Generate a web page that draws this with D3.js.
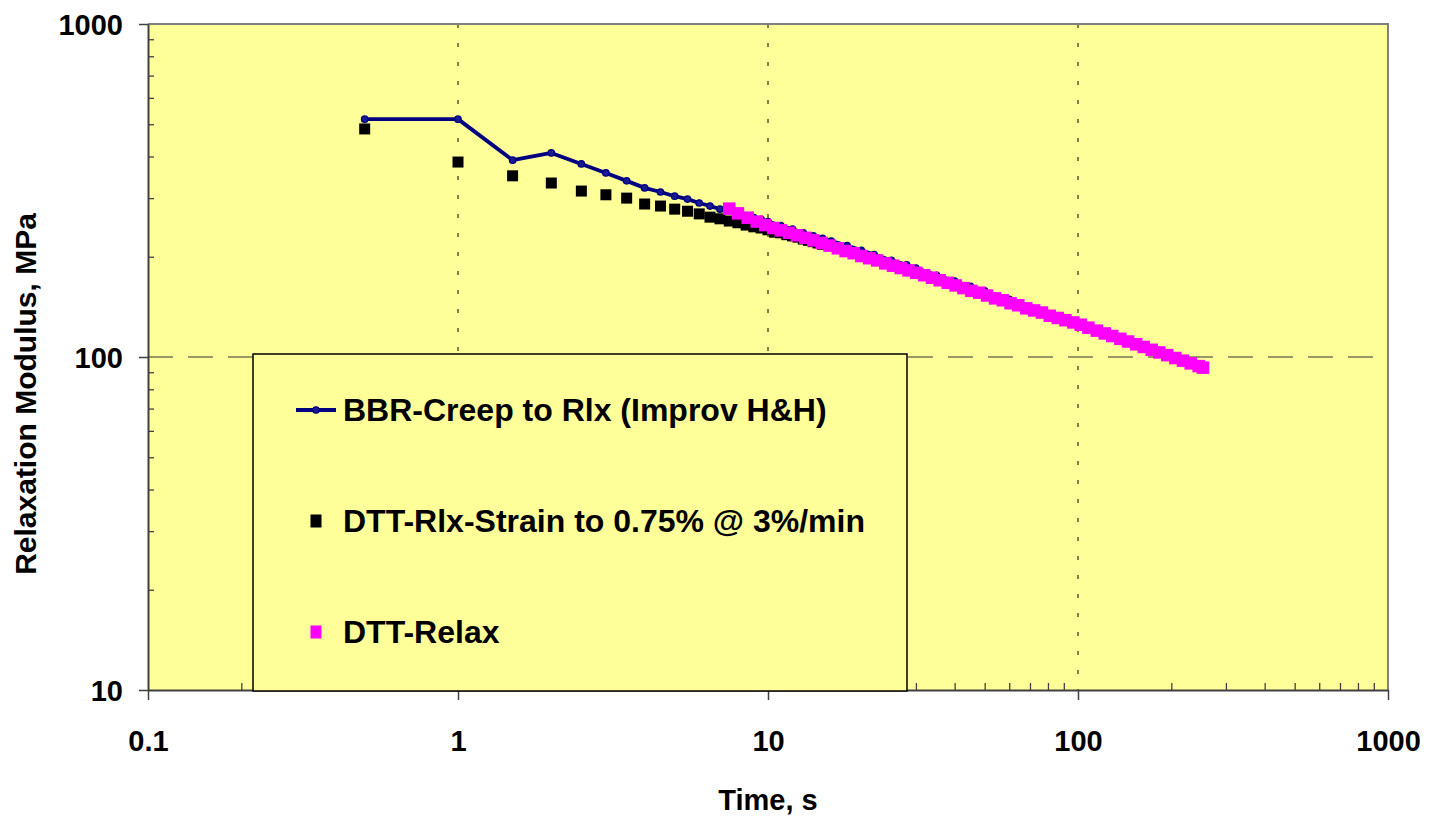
<!DOCTYPE html>
<html>
<head>
<meta charset="utf-8">
<script src="https://cdn.jsdelivr.net/npm/d3@7"></script>
<style>
  html, body { margin: 0; padding: 0; background: #fff; }
  svg text { font-family: "Liberation Sans", Arial, sans-serif; font-weight: bold; fill: #000; }
</style>
</head>
<body>
<svg id="chart" width="1431" height="817"></svg>
<script>
// ---------- DATA ----------
const xTickValues = [0.1, 1, 10, 100, 1000];
const xTickLabels = ["0.1", "1", "10", "100", "1000"];
const yTickValues = [10, 100, 1000];
const yTickLabels = ["10", "100", "1000"];

const seriesNames = ["BBR-Creep to Rlx (Improv H&H)", "DTT-Rlx-Strain to 0.75% @ 3%/min", "DTT-Relax"];

const bbrTime = [0.5,1,1.5,2,2.5,3,3.5,4,4.5,5,5.5,6,6.5,7,7.5,8,8.5,9,9.5,10,11,12,13,14,15,16,18,20,22,25,28,30,35,40,45,50,60,70,80,100,120,150,180,210,240];
const bbrModulus = [518,518,390,410,380,357,338,322,313,304,298,290,284,278,275,270,266,262,259,255,248,242,236,231,227,223,216,209,203,195,189,185,176,169,163,158,149,141,135,126,119,111,105,100,95];

const dttStrainTime = [0.5,1,1.5,2,2.5,3,3.5,4,4.5,5,5.5,6,6.5,7,7.5,8,8.5,9,9.5,10,10.5,11,11.5,12,12.5,13,13.5,14,14.5,15];
const dttStrainModulus = [484,385,350,333,315,307,300,288,284,278,274,269,263,260,256,253,249,246,244,241,237,236,233,231,229,226,224,222,220,218];

const dttRelaxTime = [7.5,8,8.6,9.2,9.8,10.4,11,11.7,12.4,13.2,14,14.9,15.8,16.8,17.8,18.9,20,21.2,22.5,23.9,25.3,26.8,28.4,30.1,31.9,33.8,35.8,38,40.3,42.7,45.3,48,50.9,54,57.2,60.6,64.2,68.1,72.2,76.5,81.1,86,91.1,96.6,102,108,115,122,129,137,145,154,163,173,183,194,206,218,231,245,253];
const dttRelaxModulus = [279,270,262,255,249,244,240,236,232,228,224,220,216,212,208,205,201,198,195,191,188,185,182,179,176,173,170,167,164,161,158,156,153,150,148,145,143,140,138,136,133,131,129,127,125,122.5,120,117.7,115.6,113.4,111.3,109.2,107.2,105.1,103.2,101.3,99.3,97.5,95.7,93.9,92.9];

const xTitle = "Time, s";
const yTitle = "Relaxation Modulus, MPa";

// ---------- LAYOUT ----------
const plot = { left: 148, right: 1388, top: 24, bottom: 690 };
const svg = d3.select("#chart");

const x = d3.scaleLog().domain([0.1, 1000]).range([plot.left, plot.right]);
const y = d3.scaleLog().domain([10, 1000]).range([plot.bottom, plot.top]);

function minorTicks(lo, hi) {
  const out = [];
  for (let d = lo; d < hi; d *= 10) for (let k = 2; k <= 9; k++) out.push(d * k);
  return out;
}

svg.append("rect")
  .attr("x", plot.left).attr("y", plot.top)
  .attr("width", plot.right - plot.left).attr("height", plot.bottom - plot.top)
  .attr("fill", "#FFFF99");

const grid = svg.append("g");
grid.selectAll("line.vg").data([1, 10, 100]).join("line")
  .attr("x1", d => x(d)).attr("x2", d => x(d))
  .attr("y1", plot.top).attr("y2", plot.bottom)
  .attr("stroke", "#000").attr("stroke-width", 1).attr("stroke-dasharray", "4,15");
grid.selectAll("line.hg").data([100]).join("line")
  .attr("x1", plot.left).attr("x2", plot.right)
  .attr("y1", d => y(d)).attr("y2", d => y(d))
  .attr("stroke", "#333").attr("stroke-width", 1.2).attr("stroke-dasharray", "25,15");

svg.append("path")
  .attr("d", `M${plot.left},${plot.top}H${plot.right}V${plot.bottom}`)
  .attr("fill", "none").attr("stroke", "#808080").attr("stroke-width", 2);

// ---------- SERIES ----------
const bbr = bbrTime.map((t, i) => ({ t, v: bbrModulus[i] }));
const strain = dttStrainTime.map((t, i) => ({ t, v: dttStrainModulus[i] }));
const relax = dttRelaxTime.map((t, i) => ({ t, v: dttRelaxModulus[i] }));

const line = d3.line().x(d => x(d.t)).y(d => y(d.v));
svg.append("path").datum(bbr)
  .attr("d", line).attr("fill", "none")
  .attr("stroke", "#000080").attr("stroke-width", 3.8).attr("stroke-linejoin", "round");
svg.append("g").selectAll("circle").data(bbr).join("circle")
  .attr("cx", d => x(d.t)).attr("cy", d => y(d.v)).attr("r", 3.2)
  .attr("fill", "#1a1a90").attr("stroke", "#000080").attr("stroke-width", 1.3);

const sq = 11;
svg.append("g").selectAll("rect").data(strain).join("rect")
  .attr("x", d => x(d.t) - sq / 2).attr("y", d => y(d.v) - sq / 2)
  .attr("width", sq).attr("height", sq).attr("fill", "#000");

const sqR = 12.5;
svg.append("g").selectAll("rect").data(relax).join("rect")
  .attr("x", d => x(d.t) - sqR / 2).attr("y", d => y(d.v) - sqR / 2)
  .attr("width", sqR).attr("height", sqR).attr("fill", "#FF00FF");

// ---------- AXES ----------
const axisColor = "#404040";
const yMinor = svg.append("g").attr("transform", `translate(${plot.left},0)`)
  .call(d3.axisRight(y).tickValues(minorTicks(10, 1000)).tickSize(6).tickFormat(""));
const yAxis = svg.append("g").attr("transform", `translate(${plot.left},0)`)
  .call(d3.axisLeft(y).tickValues(yTickValues).tickSize(9).tickSizeOuter(0)
    .tickFormat((d, i) => yTickLabels[i]));
const xMinor = svg.append("g").attr("transform", `translate(0,${plot.bottom})`)
  .call(d3.axisTop(x).tickValues(minorTicks(0.1, 1000)).tickSize(7).tickFormat(""));
const xAxis = svg.append("g").attr("transform", `translate(0,${plot.bottom})`)
  .call(d3.axisBottom(x).tickValues(xTickValues).tickSize(10).tickSizeOuter(0)
    .tickFormat((d, i) => xTickLabels[i]));

[yMinor, xMinor].forEach(g => { g.select(".domain").remove(); g.selectAll("line").attr("stroke", axisColor).attr("stroke-width", 1.3); });
[yAxis, xAxis].forEach(g => {
  g.select(".domain").attr("stroke", axisColor).attr("stroke-width", 2);
  g.selectAll("line").attr("stroke", axisColor).attr("stroke-width", 1.5);
  g.selectAll("text").style("font-family", '"Liberation Sans", Arial, sans-serif')
    .style("font-weight", "bold").style("font-size", "29px").attr("fill", "#000");
});
yAxis.selectAll("text").attr("x", -25).attr("dy", "0.35em");
xAxis.selectAll("text").attr("y", 40).attr("dy", "0.71em");

svg.append("text").attr("x", (plot.left + plot.right) / 2).attr("y", 810)
  .attr("text-anchor", "middle").style("font-size", "29px").text(xTitle);
svg.append("text")
  .attr("transform", `translate(36,${(plot.top + plot.bottom) / 2 + 37}) rotate(-90)`)
  .attr("text-anchor", "middle").style("font-size", "30px").text(yTitle);

// ---------- LEGEND ----------
const lg = svg.append("g");
lg.append("rect").attr("x", 253).attr("y", 354).attr("width", 654).attr("height", 337)
  .attr("fill", "#FFFF99").attr("stroke", "#000").attr("stroke-width", 1.5);
const rowsY = [410, 521, 632];
const mx = 316;
lg.append("line").attr("x1", mx - 20).attr("x2", mx + 20).attr("y1", rowsY[0]).attr("y2", rowsY[0])
  .attr("stroke", "#000080").attr("stroke-width", 3.8);
lg.append("circle").attr("cx", mx).attr("cy", rowsY[0]).attr("r", 3.2)
  .attr("fill", "#1a1a90").attr("stroke", "#000080").attr("stroke-width", 1.3);
lg.append("rect").attr("x", mx - 5.5).attr("y", rowsY[1] - 6.5).attr("width", 11).attr("height", 13).attr("fill", "#000");
lg.append("rect").attr("x", mx - 5.5).attr("y", rowsY[2] - 6.5).attr("width", 11).attr("height", 13).attr("fill", "#FF00FF");
lg.selectAll("text.lt").data(seriesNames).join("text")
  .attr("x", 343).attr("y", (d, i) => rowsY[i] + 11)
  .style("font-size", "32px").text(d => d);
</script>
</body>
</html>
